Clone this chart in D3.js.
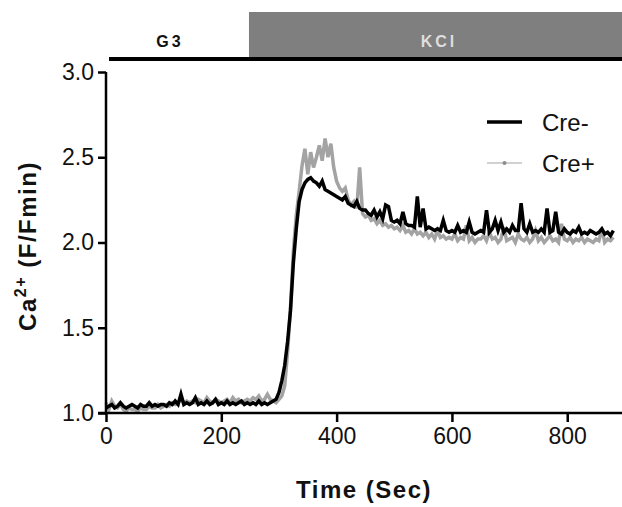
<!DOCTYPE html>
<html>
<head>
<meta charset="utf-8">
<script src="https://cdn.jsdelivr.net/npm/d3@7"></script>
<style>
  body { margin: 0; background: #fff; }
  svg { display: block; font-family: "Liberation Sans", Arial, sans-serif; }
</style>
</head>
<body>
<div class="chart"></div>
<script>
// sampling interval of the recording (sec)
var step = 5;

// Cre- trace (black), one value every 5 s from 0 to 880 s
var creMinus = [
  1.03,1.04,1.05,1.03,1.04,1.06,1.04,1.03,1.04,1.05,
  1.04,1.03,1.05,1.04,1.04,1.06,1.04,1.05,1.04,1.05,
  1.05,1.04,1.06,1.05,1.07,1.05,1.11,1.05,1.06,1.05,
  1.06,1.09,1.05,1.06,1.05,1.07,1.05,1.06,1.08,1.05,
  1.06,1.05,1.07,1.05,1.06,1.05,1.06,1.07,1.05,1.06,
  1.05,1.06,1.05,1.07,1.05,1.06,1.05,1.06,1.07,1.08,
  1.12,1.19,1.28,1.42,1.60,1.88,2.08,2.24,2.31,2.35,
  2.37,2.38,2.36,2.35,2.33,2.36,2.31,2.30,2.29,2.28,
  2.27,2.26,2.25,2.27,2.23,2.22,2.21,2.24,2.20,2.19,
  2.19,2.17,2.16,2.19,2.15,2.18,2.14,2.22,2.21,2.13,
  2.12,2.13,2.11,2.18,2.11,2.10,2.10,2.09,2.27,2.09,
  2.20,2.08,2.09,2.08,2.07,2.08,2.07,2.13,2.07,2.06,
  2.07,2.06,2.10,2.06,2.07,2.06,2.12,2.06,2.05,2.06,
  2.07,2.06,2.19,2.06,2.08,2.13,2.07,2.12,2.06,2.08,
  2.06,2.10,2.07,2.07,2.23,2.08,2.06,2.11,2.06,2.07,
  2.06,2.08,2.06,2.20,2.06,2.07,2.18,2.06,2.05,2.08,
  2.06,2.05,2.07,2.06,2.09,2.05,2.06,2.05,2.07,2.06,
  2.05,2.06,2.08,2.05,2.06,2.04,2.07
];

// Cre+ trace (grey)
var crePlus = [
  1.06,1.02,1.07,1.04,1.03,1.05,1.02,1.01,1.03,1.02,
  1.02,1.01,1.03,1.02,1.02,1.04,1.03,1.03,1.05,1.03,
  1.04,1.05,1.04,1.06,1.05,1.06,1.08,1.06,1.07,1.06,
  1.07,1.06,1.08,1.07,1.06,1.09,1.07,1.06,1.08,1.07,
  1.06,1.07,1.08,1.06,1.09,1.07,1.08,1.06,1.07,1.08,
  1.07,1.09,1.08,1.10,1.07,1.08,1.11,1.08,1.07,1.06,
  1.08,1.10,1.16,1.36,1.62,1.95,2.16,2.30,2.45,2.55,
  2.40,2.53,2.44,2.50,2.57,2.48,2.61,2.50,2.58,2.44,
  2.36,2.32,2.30,2.32,2.25,2.22,2.24,2.20,2.44,2.17,
  2.15,2.16,2.13,2.14,2.11,2.13,2.10,2.11,2.09,2.10,
  2.08,2.09,2.07,2.10,2.06,2.07,2.05,2.08,2.05,2.06,
  2.04,2.06,2.03,2.05,2.02,2.07,2.03,2.04,2.02,2.03,
  2.02,2.05,2.01,2.03,2.02,2.10,2.01,2.03,2.00,2.02,
  2.02,2.04,2.01,2.06,2.02,2.03,2.00,2.02,2.09,2.01,
  2.02,2.03,2.00,2.05,2.02,2.01,2.03,2.00,2.02,2.07,
  2.01,2.03,2.00,2.02,2.04,2.01,2.02,2.00,2.11,2.02,
  2.01,2.03,2.00,2.02,2.01,2.03,2.00,2.02,2.01,2.00,
  2.02,2.01,2.08,2.00,2.02,2.01,2.03
];

var xTicks = [0, 200, 400, 600, 800];
var yTicks = [1.0, 1.5, 2.0, 2.5, 3.0];

// treatment bars over the top
var phases = [
  {name: "G3", start: 0, end: 248},
  {name: "KCl", start: 248, end: 895}
];

// setup
var W = 622, H = 507;
var svg = d3.select(".chart").append("svg")
    .attr("width", W)
    .attr("height", H);

var x = d3.scaleLinear().domain([0, 895]).range([106, 622]);
var y = d3.scaleLinear().domain([1, 3]).range([413, 72]);

var toPoints = function(arr) {
  return arr.map(function(v, i) { return {t: i * step, v: v}; });
};

var line = d3.line()
    .x(function(d) { return x(d.t); })
    .y(function(d) { return y(d.v); });

// top bars
var bars = svg.append("g");
bars.append("rect")
    .attr("x", x(phases[1].start)).attr("y", 12)
    .attr("width", W - x(phases[1].start)).attr("height", 46)
    .attr("fill", "#7f7f7f");
bars.append("line")
    .attr("x1", 109).attr("x2", W)
    .attr("y1", 59).attr("y2", 59)
    .attr("stroke", "#000").attr("stroke-width", 4);
bars.append("text")
    .attr("x", 170).attr("y", 47)
    .attr("text-anchor", "middle")
    .style("font-size", "16px").style("font-weight", "bold")
    .style("letter-spacing", "3px")
    .attr("fill", "#111")
    .text(phases[0].name);
bars.append("text")
    .attr("x", 439).attr("y", 47)
    .attr("text-anchor", "middle")
    .style("font-size", "16px").style("font-weight", "bold")
    .style("letter-spacing", "3px")
    .attr("fill", "#dedede")
    .text(phases[1].name);

// traces
svg.append("path")
    .datum(toPoints(crePlus))
    .attr("fill", "none")
    .attr("stroke", "#a3a3a3")
    .attr("stroke-width", 3.5)
    .attr("d", line);

svg.append("path")
    .datum(toPoints(creMinus))
    .attr("fill", "none")
    .attr("stroke", "#000")
    .attr("stroke-width", 3.5)
    .attr("d", line);

// axes
var xAxis = d3.axisBottom(x).tickValues(xTicks).tickSize(9).tickPadding(6)
    .tickFormat(d3.format("d"));
var yAxis = d3.axisLeft(y).tickValues(yTicks).tickSize(8).tickPadding(4)
    .tickFormat(d3.format(".1f"));

var gx = svg.append("g")
    .attr("transform", "translate(0," + y(1) + ")")
    .call(xAxis);
var gy = svg.append("g")
    .attr("transform", "translate(" + x(0) + ",0)")
    .call(yAxis);

[gx, gy].forEach(function(g) {
  g.select(".domain").attr("stroke-width", 2.5).attr("stroke", "#000");
  g.selectAll(".tick line").attr("stroke-width", 2.5).attr("stroke", "#000");
  g.selectAll(".tick text")
      .attr("fill", "#111")
      .style("font-size", "23px")
      .style("font-family", "Liberation Sans, Arial, sans-serif");
});
gx.select(".domain").attr("d", "M98,0H" + W);
gy.select(".domain").attr("d", "M0," + y(3) + "V" + y(1));

// legend
var legend = svg.append("g");
legend.append("line")
    .attr("x1", 487).attr("x2", 522).attr("y1", 122).attr("y2", 122)
    .attr("stroke", "#000").attr("stroke-width", 3.5);
legend.append("text")
    .attr("x", 542).attr("y", 131)
    .style("font-size", "24px").attr("fill", "#111")
    .text("Cre-");
legend.append("line")
    .attr("x1", 487).attr("x2", 522).attr("y1", 163).attr("y2", 163)
    .attr("stroke", "#a3a3a3").attr("stroke-width", 1.2);
legend.append("circle")
    .attr("cx", 504.5).attr("cy", 163).attr("r", 2)
    .attr("fill", "#8c8c8c");
legend.append("text")
    .attr("x", 542).attr("y", 172)
    .style("font-size", "24px").attr("fill", "#111")
    .text("Cre+");

// axis titles
svg.append("text")
    .attr("x", 364).attr("y", 498)
    .attr("text-anchor", "middle")
    .style("font-size", "24px").style("font-weight", "bold")
    .style("letter-spacing", "1.5px")
    .attr("fill", "#111")
    .text("Time (Sec)");

var yt = svg.append("text")
    .attr("transform", "translate(36,246) rotate(-90)")
    .attr("text-anchor", "middle")
    .style("font-size", "24px").style("font-weight", "bold")
    .style("letter-spacing", "1.5px")
    .attr("fill", "#111");
yt.append("tspan").text("Ca");
yt.append("tspan").attr("dy", -10).style("font-size", "16px").text("2+");
yt.append("tspan").attr("dy", 10).text(" (F/Fmin)");
</script>
</body>
</html>
